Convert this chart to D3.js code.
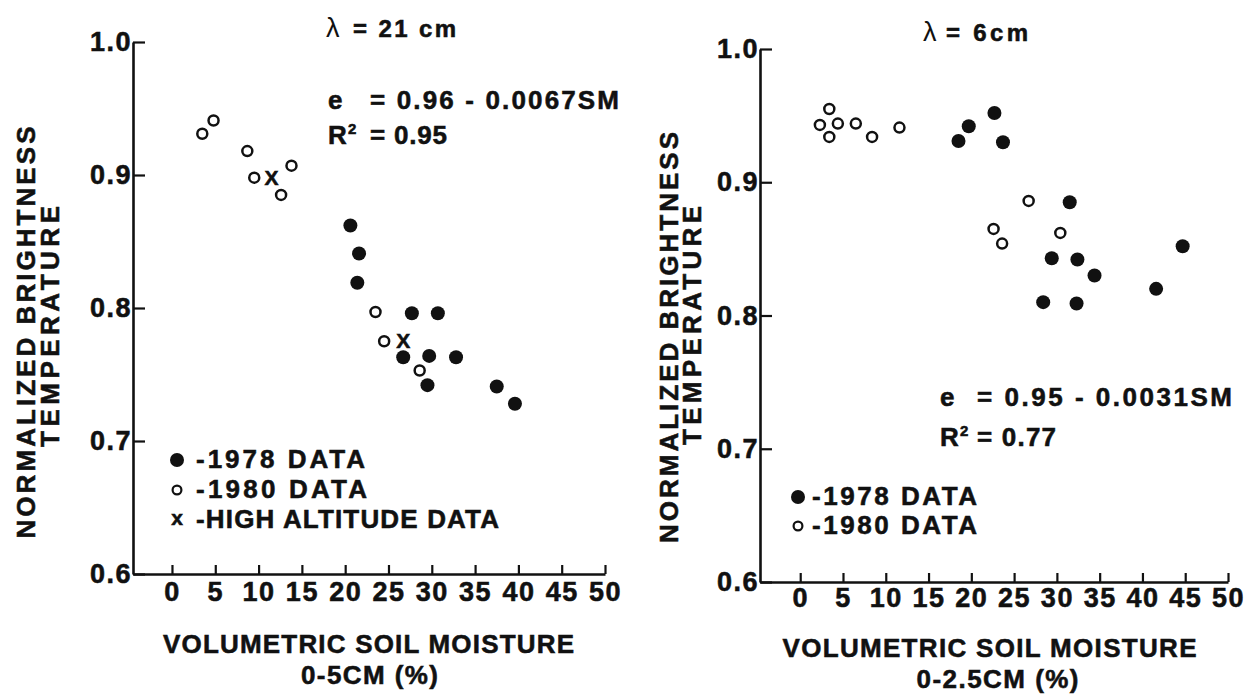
<!DOCTYPE html>
<html><head><meta charset="utf-8">
<script src="https://cdn.jsdelivr.net/npm/d3@7"></script>
<style>
html,body{margin:0;padding:0;background:#fff;}
svg{display:block;font-family:"Liberation Sans",Arial,Helvetica,sans-serif;font-weight:bold;}
svg text{stroke:#111;stroke-width:0.55px;}
svg text.thin{stroke:none;}
.axis path,.axis line{stroke:#111;}
.axis text{font-family:"Liberation Sans",Arial,sans-serif;font-weight:bold;fill:#111;}
</style></head>
<body>
<svg id="c" width="1248" height="695"></svg>
<script>
// ---- data ----
const xTicks = [0,5,10,15,20,25,30,35,40,45,50];
const yTicks = [0.6,0.7,0.8,0.9,1.0];

// λ = 21 cm panel: [soil moisture %, normalized brightness temperature]
const left1978 = [[20.6,0.862],[21.6,0.841],[21.4,0.819],[27.7,0.796],[30.7,0.796],[26.7,0.763],[29.7,0.764],[32.8,0.763],[29.5,0.742],[37.5,0.741],[39.6,0.728]];
const left1980 = [[3.5,0.931],[4.8,0.941],[8.7,0.918],[9.5,0.898],[13.8,0.907],[12.6,0.885],[23.5,0.797],[24.5,0.775],[28.6,0.753]];
const leftHigh = [[11.5,0.898],[26.7,0.775]];

// λ = 6 cm panel
const right1978 = [[18.5,0.931],[19.7,0.942],[22.7,0.952],[23.7,0.930],[31.5,0.885],[44.7,0.852],[29.4,0.843],[32.4,0.842],[34.4,0.830],[41.6,0.820],[28.4,0.810],[32.3,0.809]];
const right1980 = [[3.4,0.955],[2.3,0.943],[4.4,0.944],[3.4,0.934],[6.5,0.944],[8.4,0.934],[11.6,0.941],[26.7,0.886],[22.6,0.865],[23.6,0.854],[30.4,0.862]];

const leftLegend = ["-1978 DATA","-1980 DATA","-HIGH ALTITUDE DATA"];
const rightLegend = ["-1978 DATA","-1980 DATA"];

const svg = d3.select("#c");
const FS = 26;

function txt(g, s, x, y, o = {}) {
  const t = g.append("text").attr("x", x).attr("y", y).text(s)
    .attr("font-size", o.size || FS).attr("fill", "#111")
    .attr("text-anchor", o.anchor || "start")
    .style("letter-spacing", (o.ls != null ? o.ls : 1) + "px");
  if (o.len) t.attr("textLength", o.len).attr("lengthAdjust", "spacing");
  if (o.weight) t.attr("font-weight", o.weight).attr("class", "thin");
  if (o.rot) t.attr("transform", `rotate(${o.rot},${x},${y})`);
  return t;
}

function panel(cfg) {
  const g = svg.append("g");
  const x = d3.scaleLinear().domain(cfg.xDom).range(cfg.xRange);
  const y = d3.scaleLinear().domain([0.6, 1.0]).range(cfg.yRange);

  const ax = g.append("g").attr("class", "axis")
    .attr("transform", `translate(0,${cfg.yRange[0]})`)
    .call(d3.axisBottom(x).tickValues(xTicks).tickSize(-9).tickSizeOuter(0).tickPadding(cfg.xPad));
  const ay = g.append("g").attr("class", "axis")
    .attr("transform", `translate(${cfg.xRange[0]},0)`)
    .call(d3.axisLeft(y).tickValues(yTicks).tickSize(-12).tickSizeOuter(0).tickPadding(1).tickFormat(d3.format(".1f")));
  [ax, ay].forEach(a => {
    a.select(".domain").attr("stroke-width", 2.6);
    a.selectAll(".tick line").attr("stroke-width", 2.2);
    a.selectAll(".tick text").attr("font-size", 27).style("letter-spacing", "1.5px").attr("fill", "#111");
  });

  // filled points
  g.selectAll(".f").data(cfg.filled).join("circle")
    .attr("cx", d => x(d[0])).attr("cy", d => y(d[1])).attr("r", 7).attr("fill", "#111");
  // open points
  g.selectAll(".o").data(cfg.open).join("circle")
    .attr("cx", d => x(d[0])).attr("cy", d => y(d[1])).attr("r", 5)
    .attr("fill", "none").attr("stroke", "#111").attr("stroke-width", 2.5);
  // high altitude
  if (cfg.high) g.selectAll(".h").data(cfg.high).join("text")
    .attr("x", d => x(d[0])).attr("y", d => y(d[1]) + 7).attr("text-anchor", "middle")
    .attr("font-size", 21).attr("fill", "#111").text("X");

  // legend
  const L = cfg.legend;
  L.labels.forEach((s, i) => {
    const cy = L.y0 + i * L.dy;
    if (i === 0) g.append("circle").attr("cx", L.mx).attr("cy", cy - 8).attr("r", 7).attr("fill", "#111");
    else if (i === 1) g.append("circle").attr("cx", L.mx).attr("cy", cy - 8).attr("r", 4.4).attr("fill", "none").attr("stroke", "#111").attr("stroke-width", 2.2);
    else g.append("text").attr("x", L.mx).attr("y", cy - 3).attr("text-anchor", "middle").attr("font-size", 21).attr("fill", "#111").text("x");
    txt(g, s, L.tx, cy, { len: L.lens[i] });
  });

  // title
  const T = cfg.title;
  txt(g, "λ", T.x, T.y, { size: 27, weight: "normal", ls: 0 });
  txt(g, T.s, T.x2, T.y, { size: 24, len: T.len });

  // equation
  const E = cfg.eq;
  txt(g, "e", E.x, E.y1, { ls: 0 });
  txt(g, E.s1, E.x2, E.y1, { len: E.len1 });
  txt(g, "R", E.x, E.y2, { ls: 0 });
  txt(g, "2", E.x + 20, E.y2 - 10, { size: 15, ls: 0 });
  txt(g, E.s2, E.x2, E.y2, { len: E.len2 });

  // axis titles
  const A = cfg.atitle;
  txt(g, "VOLUMETRIC SOIL MOISTURE", A.cx, A.y1, { anchor: "middle", len: A.len1 });
  txt(g, A.sub, A.cx2, A.y2, { anchor: "middle", len: A.len2 });
  txt(g, "NORMALIZED BRIGHTNESS", A.yx1, A.yc1, { anchor: "middle", len: A.ylen1, rot: -90 });
  txt(g, "TEMPERATURE", A.yx2, A.yc2, { anchor: "middle", len: A.ylen2, rot: -90 });
}

panel({
  xDom: [-4.5, 50], xRange: [133, 605], yRange: [574, 42], xPad: 8,
  filled: left1978, open: left1980, high: leftHigh,
  legend: { labels: leftLegend, mx: 177, tx: 196, y0: 468, dy: 30, lens: [170, 172, 304] },
  title: { x: 326, x2: 353, y: 37, s: "= 21 cm", len: 104 },
  eq: { x: 328, x2: 370, y1: 109, y2: 144, s1: "= 0.96 - 0.0067SM", len1: 250, s2: "= 0.95", len2: 78 },
  atitle: { cx: 369, y1: 653, len1: 412, sub: "0-5CM (%)", cx2: 370, y2: 684, len2: 138,
            yx1: 35, yc1: 332, ylen1: 413, yx2: 59, yc2: 326, ylen2: 242 }
});

panel({
  xDom: [-4.7, 50], xRange: [760, 1228], yRange: [582, 49], xPad: 6,
  filled: right1978, open: right1980,
  legend: { labels: rightLegend, mx: 798, tx: 812, y0: 505, dy: 29, lens: [166, 166] },
  title: { x: 923, x2: 946, y: 41, s: "= 6cm", len: 83 },
  eq: { x: 940, x2: 977, y1: 406, y2: 446, s1: "= 0.95 - 0.0031SM", len1: 256, s2: "= 0.77", len2: 80 },
  atitle: { cx: 990, y1: 657, len1: 415, sub: "0-2.5CM (%)", cx2: 998, y2: 688, len2: 163,
            yx1: 678, yc1: 337, ylen1: 412, yx2: 701, yc2: 325, ylen2: 240 }
});
</script>
</body></html>
